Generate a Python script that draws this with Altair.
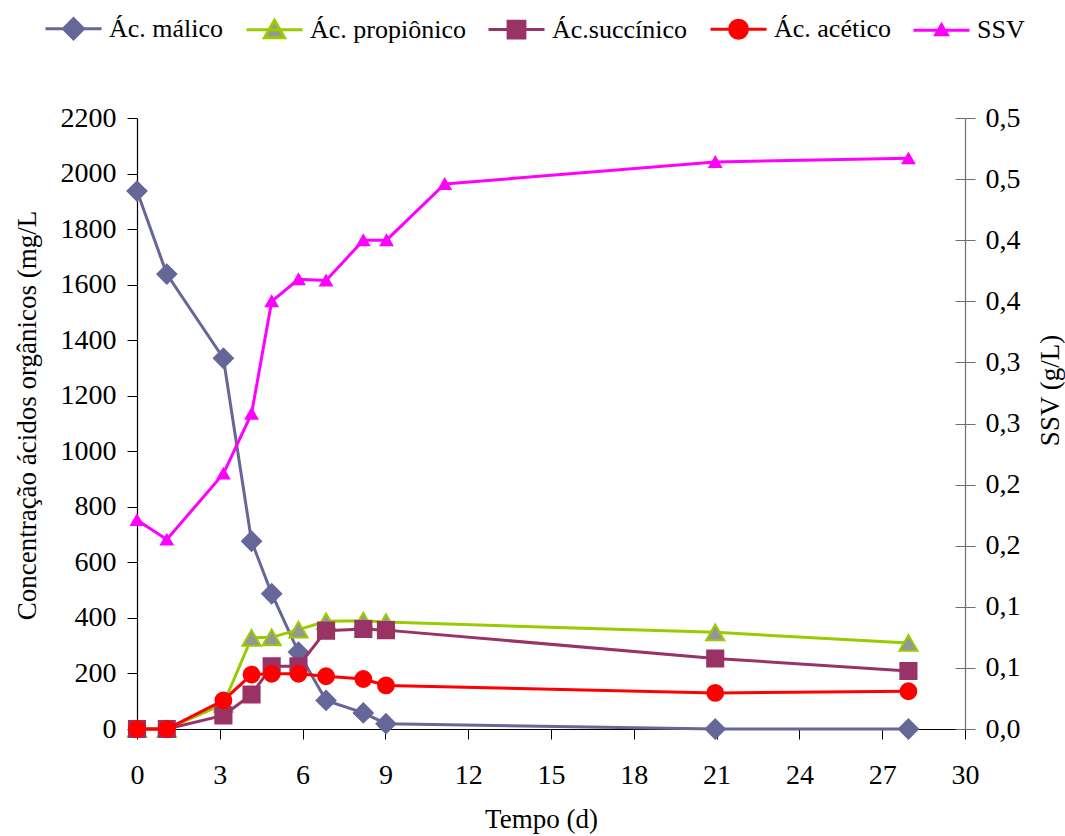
import altair as alt
import pandas as pd

# ---- data ----
t_acid = [0, 1.08, 3.13, 4.15, 4.88, 5.85, 6.85, 8.2, 9.02, 20.95, 27.95]
malico = [1937, 1638, 1335, 676, 487, 277, 103, 58, 19, 0, 0]
propionico = [0, 0, 90, 328, 330, 358, 388, 390, 385, 348, 310]
succinico = [0, 0, 49, 124, 226, 226, 354, 360, 356, 254, 209]
acetico = [0, 0, 103, 196, 199, 199, 190, 180, 157, 130, 136]

t_ssv = [0, 1.08, 3.13, 4.15, 4.88, 5.85, 6.85, 8.2, 9.04, 11.15, 20.95, 27.95]
ssv = [0.171, 0.155, 0.209, 0.258, 0.350, 0.368, 0.367, 0.400, 0.400, 0.446, 0.464, 0.467]

names = ["Ác. málico", "Ác. propiônico", "Ác.succínico", "Ác. acético", "SSV"]
line_colors = ["#666699", "#99CC00", "#993366", "#FF0000", "#FF00FF"]
fill_colors = ["#666699", "#969696", "#993366", "#FF0000", "#FF00FF"]
shapes = ["diamond", "triangle-up", "square", "circle", "triangle-up"]
sizes = [360, 330, 260, 250, 130]

x_ticks = list(range(0, 31, 3))
y_ticks = list(range(0, 2201, 200))
y2_ticks = [i * 0.05 for i in range(11)]

FONT = "Liberation Serif"
LFS = 28   # tick labels
TFS = 27   # axis titles
GFS = 26   # legend labels

xscale = alt.Scale(domain=[0, 30], nice=False, zero=False)
xaxis = alt.Axis(values=x_ticks, title="Tempo (d)", grid=False, tickSize=10,
                 labelPadding=22, tickColor="black", domainColor="black",
                 labelFlush=False, titleX=404,
                 titleY=98, titleBaseline="alphabetic")
yscale = alt.Scale(domain=[0, 2200], nice=False)
yaxis = alt.Axis(values=y_ticks, format="d", title="Concentração ácidos orgânicos (mg/L",
                 grid=False, tickSize=10, labelPadding=11, tickColor="black",
                 domainColor="black", labelFlush=False,
                 titleAngle=270, titleX=-102, titleY=297, titleBaseline="alphabetic",
                 titleAlign="center")
y2scale = alt.Scale(domain=[0, 0.5], nice=False)
y2axis = alt.Axis(values=y2_ticks, orient="right", title="SSV (g/L)", grid=False,
                  tickSize=10, labelPadding=10, tickColor="#707070", domainColor="#707070",
                  labelFlush=False,
                  labelExpr="replace(format(datum.value + 0.0001, '.1f'), '.', ',')",
                  titleAngle=270, titleX=93, titleY=272, titleBaseline="alphabetic",
                  titleAlign="center")
# inner half of the crossing ticks on the right axis
y2inner = alt.Axis(values=y2_ticks, orient="right", title=None, grid=False,
                   labels=False, domain=False, tickSize=10, offset=-10,
                   tickColor="#707070")


def series_layers(t, v, i, ys, ya):
    df = pd.DataFrame({"t": t, "v": v})
    base = alt.Chart(df).encode(
        x=alt.X("t:Q", scale=xscale, axis=xaxis),
        y=alt.Y("v:Q", scale=ys, axis=ya),
    )
    line = base.mark_line(color=line_colors[i], strokeWidth=3)
    pts = base.mark_point(shape=shapes[i], filled=True, fill=fill_colors[i],
                          stroke=line_colors[i], strokeWidth=2, size=sizes[i], opacity=1)
    return [line, pts]


acid_layers = []
for i, vals in enumerate([malico, propionico, succinico, acetico]):
    acid_layers += series_layers(t_acid, vals, i, yscale, yaxis)
acids = alt.layer(*acid_layers)
ssv_layer = alt.layer(*series_layers(t_ssv, ssv, 4, y2scale, y2axis))

inner_ticks = alt.Chart(pd.DataFrame({"v": ssv})).transform_filter("false").mark_point(
    opacity=0
).encode(y=alt.Y("v:Q", scale=y2scale, axis=y2inner))

# legend: line segment with marker (custom symbol paths)
legend_paths = [
    "M-1,0L1,0M-0.36,0L0,-0.36L0.36,0L0,0.36Z",
    "M-1,0L1,0M0,-0.34L0.36,0.28L-0.36,0.28Z",
    "M-1,0L1,0M-0.3,-0.3L0.3,-0.3L0.3,0.3L-0.3,0.3Z",
    "M-1,0L1,0M-0.32,0A0.32,0.32 0 1,0 0.32,0A0.32,0.32 0 1,0 -0.32,0Z",
    "M-1,0L1,0M0,-0.2L0.21,0.16L-0.21,0.16Z",
]
leg = alt.Legend(title=None, orient="none", legendX=-93, legendY=-119,
                 direction="horizontal", columns=5, symbolSize=3136,
                 symbolStrokeWidth=3, labelFont=FONT, labelFontSize=GFS,
                 labelColor="black", labelOffset=6, columnPadding=16, labelLimit=400)
leg_df = pd.DataFrame({"series": names})
legend_layer = alt.Chart(leg_df).transform_filter("false").mark_point(
    filled=True, opacity=1, strokeWidth=3
).encode(
    shape=alt.Shape("series:N", scale=alt.Scale(domain=names, range=legend_paths), legend=leg),
    fill=alt.Fill("series:N", scale=alt.Scale(domain=names, range=fill_colors), legend=leg),
    stroke=alt.Stroke("series:N", scale=alt.Scale(domain=names, range=line_colors), legend=leg),
)

chart = alt.layer(acids, ssv_layer, inner_ticks, legend_layer).resolve_scale(
    y="independent"
).properties(
    width=828, height=611,
    autosize=alt.AutoSizeParams(type="none"),
    padding={"left": 137, "top": 118, "right": 100, "bottom": 107},
).configure_view(strokeWidth=0).configure_axis(
    labelFont=FONT, titleFont=FONT, labelFontSize=LFS, titleFontSize=TFS,
    labelColor="black", titleColor="black", titleFontWeight="normal", domainWidth=1.2,
)

chart.save("out.html", embed_options={"renderer": "svg", "actions": False})
